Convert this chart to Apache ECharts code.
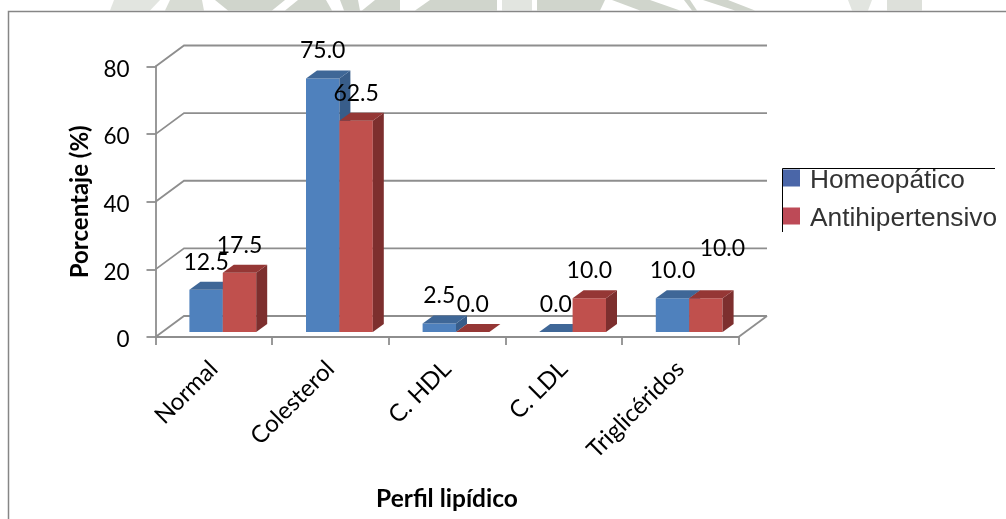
<!DOCTYPE html>
<html><head><meta charset="utf-8">
<style>html,body{margin:0;padding:0;background:#fff}#c{width:1006px;height:519px}</style>
<script src="https://cdn.jsdelivr.net/npm/echarts@6/dist/echarts.min.js"></script>
</head><body><div id="c"></div>
<script>
const categories = ['Normal','Colesterol','C. HDL','C. LDL','Triglicéridos'];
const homeopatico = [12.5,75.0,2.5,0.0,10.0];
const antihipertensivo = [17.5,62.5,0.0,10.0,10.0];
const yTicks = [0,20,40,60,80];
const seriesNames = ['Homeopático','Antihipertensivo'];

const FONT = 'Lato';
const DEPTH = {x:28.5, y:-21};
const BAR = {w:33.4, dx:11, dy:-8, shiftX:9, shiftY:-5};

function barItem(side, front, top, right){
  return function(params, api){
    const idx = api.value(0), val = api.value(1);
    const base = api.coord([idx,0]), tip = api.coord([idx,val]);
    const xL = base[0] + BAR.shiftX + (side<0 ? -BAR.w : 0);
    const xR = xL + BAR.w;
    const yB = base[1] + BAR.shiftY, yT = tip[1] + BAR.shiftY;
    const d = {x:BAR.dx, y:BAR.dy};
    const kids = [];
    if (val>0) {
      kids.push({type:'polygon',shape:{points:[[xL,yB],[xR,yB],[xR,yT],[xL,yT]]},style:{fill:front}});
      kids.push({type:'polygon',shape:{points:[[xR,yB],[xR+d.x,yB+d.y],[xR+d.x,yT+d.y],[xR,yT]]},style:{fill:right}});
    }
    kids.push({type:'polygon',shape:{points:[[xL,yT],[xR,yT],[xR+d.x,yT+d.y],[xL+d.x,yT+d.y]]},style:{fill:top}});
    // the last red label sits apart from its bar in the reference
    const moved = side>0 && idx===categories.length-1;
    kids.push({type:'text',z2:100,style:{
      text:val.toFixed(1),
      x:(xL+xR)/2 + (moved?16.5:0),
      y:yT-27.5 + (moved?3-25:0),
      align:'center',verticalAlign:'middle',
      font:'23px '+FONT,fill:'#000'}});
    return {type:'group',children:kids};
  };
}

function wallItem(params, api){
  const v = api.value(0);
  const p = api.coord([0,v]);
  const cs = params.coordSys;
  const left = cs.x, right = cs.x+cs.width;
  const st = {stroke:'#8e8e8e',lineWidth:1.8,fill:null};
  const kids = [{type:'polyline',shape:{points:[[left,p[1]],[left+DEPTH.x,p[1]+DEPTH.y],[right+DEPTH.x,p[1]+DEPTH.y]]},style:st}];
  if (v===0) kids.push({type:'line',shape:{x1:right,y1:p[1],x2:right+DEPTH.x,y2:p[1]+DEPTH.y},style:st});
  return {type:'group',children:kids};
}

function wmShape(x1,x2,x3,x4,fill){
  return {type:'polygon',silent:true,z:0,shape:{points:[[x1,0],[x2,0],[x3,10.5],[x4,10.5]]},style:{fill:fill}};
}
const wmD='#d0d5cc', wmL='#e2e5e0';

const chart = echarts.init(document.getElementById('c'),null,{renderer:'canvas'});
chart.setOption({
  animation:false,
  backgroundColor:'#fff',
  grid:{left:155.5,top:66.5,width:583,height:270.5},
  legend:{
    orient:'vertical',left:778,top:163,itemWidth:17,itemHeight:23,itemGap:12,
    selectedMode:false,icon:'path://M0,0H17V17H0Z M17,23L17,23Z',
    data:[{name:seriesNames[0],itemStyle:{color:'#4a66a8'}},{name:seriesNames[1],itemStyle:{color:'#bd4a57'}}],
    textStyle:{fontFamily:'Liberation Sans',fontSize:26.3,color:'#333',padding:[0,0,0,5]}
  },
  xAxis:{type:'category',data:categories,
    axisLine:{lineStyle:{color:'#8e8e8e',width:1.8}},
    axisTick:{show:true,length:8,lineStyle:{color:'#8e8e8e',width:1.8}},
    axisLabel:{rotate:45,margin:28,fontFamily:FONT,fontSize:24,color:'#000',interval:0},
    name:'Perfil lipídico',nameLocation:'middle',nameGap:150,
    nameTextStyle:{fontFamily:FONT,fontSize:24.5,fontWeight:'bold',color:'#000'}},
  yAxis:{type:'value',min:0,max:80,interval:20,
    axisLine:{show:true,lineStyle:{color:'#8e8e8e',width:1.8}},
    axisTick:{show:true,length:9,lineStyle:{color:'#8e8e8e',width:1.8}},
    splitLine:{show:false},
    axisLabel:{margin:26,fontFamily:FONT,fontSize:22.5,color:'#000',verticalAlign:'top',lineHeight:6},
    name:'Porcentaje (%)',nameLocation:'middle',nameGap:62,
    nameTextStyle:{fontFamily:FONT,fontSize:24,fontWeight:'bold',color:'#000'}},
  series:[
    {type:'custom',name:'Pared',silent:true,z:1,coordinateSystem:'cartesian2d',data:yTicks.map(v=>[v]),
      encode:{y:0},renderItem:wallItem},
    {type:'custom',name:seriesNames[0],z:2,data:homeopatico.map((v,i)=>[i,v]),encode:{x:0,y:1},
      itemStyle:{color:'#4f81bd'},renderItem:barItem(-1,'#4f81bd','#3f6797','#385d8a')},
    {type:'custom',name:seriesNames[1],z:2,data:antihipertensivo.map((v,i)=>[i,v]),encode:{x:0,y:1},
      itemStyle:{color:'#c0504d'},renderItem:barItem(1,'#c0504d','#953735','#7d2f2e')}
  ],
  graphic:[
    wmShape(114,160,150,110,wmL), wmShape(170,202,204,165,'#d8dcd4'),
    wmShape(215,285,272,228,wmD), wmShape(298,326,332,285,wmD),
    wmShape(340,358,360,344,wmD), wmShape(375,400,400,362,wmD),
    wmShape(430,497,497,415,wmD), wmShape(502,532,532,502,wmL),
    wmShape(537,605,600,537,wmD), wmShape(612,650,680,640,wmD),
    wmShape(684,690,697,692,wmD), wmShape(703,728,755,735,wmD),
    wmShape(848,872,868,852,wmL), wmShape(887,922,922,887,'#dde0da'),
    {type:'polyline',silent:true,z:50,shape:{points:[[8.5,519],[8.5,11.5],[1006,11.5]]},style:{stroke:'#868686',lineWidth:1.5,fill:null}},
    {type:'polyline',silent:true,z:50,shape:{points:[[782.5,232],[782.5,168.5],[995,168.5]]},style:{stroke:'#000',lineWidth:1,fill:null}}
  ]
});
</script></body></html>
